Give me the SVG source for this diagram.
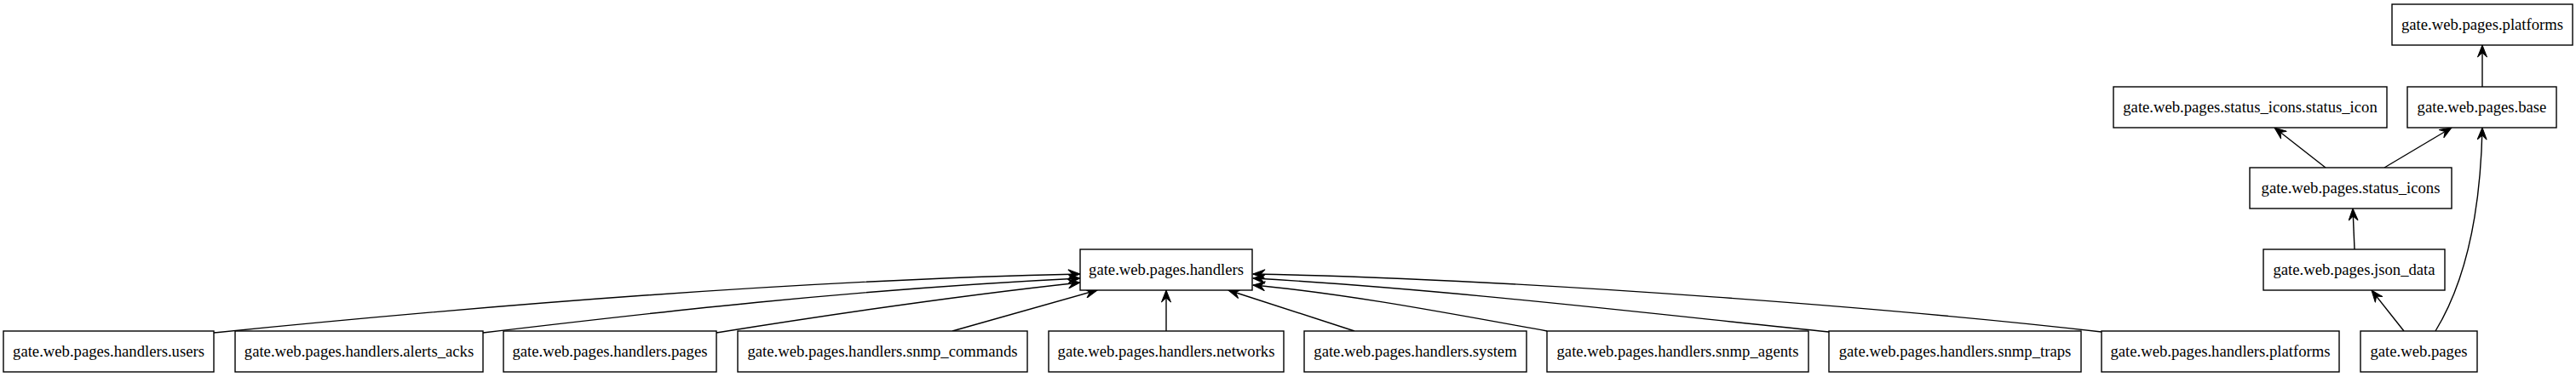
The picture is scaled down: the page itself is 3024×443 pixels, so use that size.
<svg xmlns="http://www.w3.org/2000/svg" width="3024" height="443" viewBox="0 0 3024 443">
<style>
.n rect{fill:#fff;stroke:#000;stroke-width:1.4}
.n text{font-family:"Liberation Serif","Times New Roman",serif;font-size:18.67px;text-anchor:middle;fill:#000}
.e path{fill:none;stroke:#000;stroke-width:1.4;marker-end:url(#vee)}
</style>
<defs>
<marker id="vee" markerUnits="userSpaceOnUse" markerWidth="16" markerHeight="12" viewBox="-15 -6 16 12" refX="0" refY="0" orient="auto">
<path d="M0,0 L-14,-5.5 L-9,0 L-14,5.5 Z" fill="#000" stroke="#000" stroke-width="1"/>
</marker>
</defs>
<rect width="3024" height="443" fill="#fff"/>
<g id="edges" class="e">
<path d="M251,391 C520,364 900,330 1268,322"/>
<path d="M567,391 C760,368 1000,340 1268,327"/>
<path d="M841,391 C960,372 1120,348 1268,332"/>
<path d="M1118,389 L1288,341"/>
<path d="M1369,389 L1369,341"/>
<path d="M1590,389 L1442,341"/>
<path d="M1816,389 C1700,368 1580,345 1471,335"/>
<path d="M2147,390 C1950,370 1700,340 1471,327"/>
<path d="M2467,390 C2250,365 1800,328 1471,322"/>
<path d="M2822,389 L2784,341"/>
<path d="M2859,389 C2895,330 2912,250 2914,150"/>
<path d="M2764,293 L2762,245"/>
<path d="M2730,197 L2670,150"/>
<path d="M2799,197 L2878,150"/>
<path d="M2914,102 L2914,53"/>
</g>
<g id="n_handlers" class="n"><rect x="1268" y="293" width="202" height="48"/><text x="1369" y="323">gate.web.pages.handlers</text></g>
<g id="n_users" class="n"><rect x="4" y="389" width="247" height="48"/><text x="127.5" y="419">gate.web.pages.handlers.users</text></g>
<g id="n_alerts_acks" class="n"><rect x="276" y="389" width="291" height="48"/><text x="421.5" y="419">gate.web.pages.handlers.alerts_acks</text></g>
<g id="n_pages" class="n"><rect x="591" y="389" width="250" height="48"/><text x="716" y="419">gate.web.pages.handlers.pages</text></g>
<g id="n_snmp_commands" class="n"><rect x="866" y="389" width="340" height="48"/><text x="1036" y="419">gate.web.pages.handlers.snmp_commands</text></g>
<g id="n_networks" class="n"><rect x="1231" y="389" width="276" height="48"/><text x="1369" y="419">gate.web.pages.handlers.networks</text></g>
<g id="n_system" class="n"><rect x="1531" y="389" width="261" height="48"/><text x="1661.5" y="419">gate.web.pages.handlers.system</text></g>
<g id="n_snmp_agents" class="n"><rect x="1816" y="389" width="307" height="48"/><text x="1969.5" y="419">gate.web.pages.handlers.snmp_agents</text></g>
<g id="n_snmp_traps" class="n"><rect x="2147" y="389" width="296" height="48"/><text x="2295" y="419">gate.web.pages.handlers.snmp_traps</text></g>
<g id="n_h_platforms" class="n"><rect x="2467" y="389" width="279" height="48"/><text x="2606.5" y="419">gate.web.pages.handlers.platforms</text></g>
<g id="n_pages_root" class="n"><rect x="2771" y="389" width="137" height="48"/><text x="2839.5" y="419">gate.web.pages</text></g>
<g id="n_json_data" class="n"><rect x="2657" y="293" width="213" height="48"/><text x="2763.5" y="323">gate.web.pages.json_data</text></g>
<g id="n_status_icons" class="n"><rect x="2641" y="197" width="237" height="48"/><text x="2759.5" y="227">gate.web.pages.status_icons</text></g>
<g id="n_status_icon" class="n"><rect x="2481" y="102" width="321" height="48"/><text x="2641.5" y="132">gate.web.pages.status_icons.status_icon</text></g>
<g id="n_base" class="n"><rect x="2826" y="102" width="175" height="48"/><text x="2913.5" y="132">gate.web.pages.base</text></g>
<g id="n_platforms" class="n"><rect x="2808" y="5" width="212" height="48"/><text x="2914" y="35">gate.web.pages.platforms</text></g>
</svg>
